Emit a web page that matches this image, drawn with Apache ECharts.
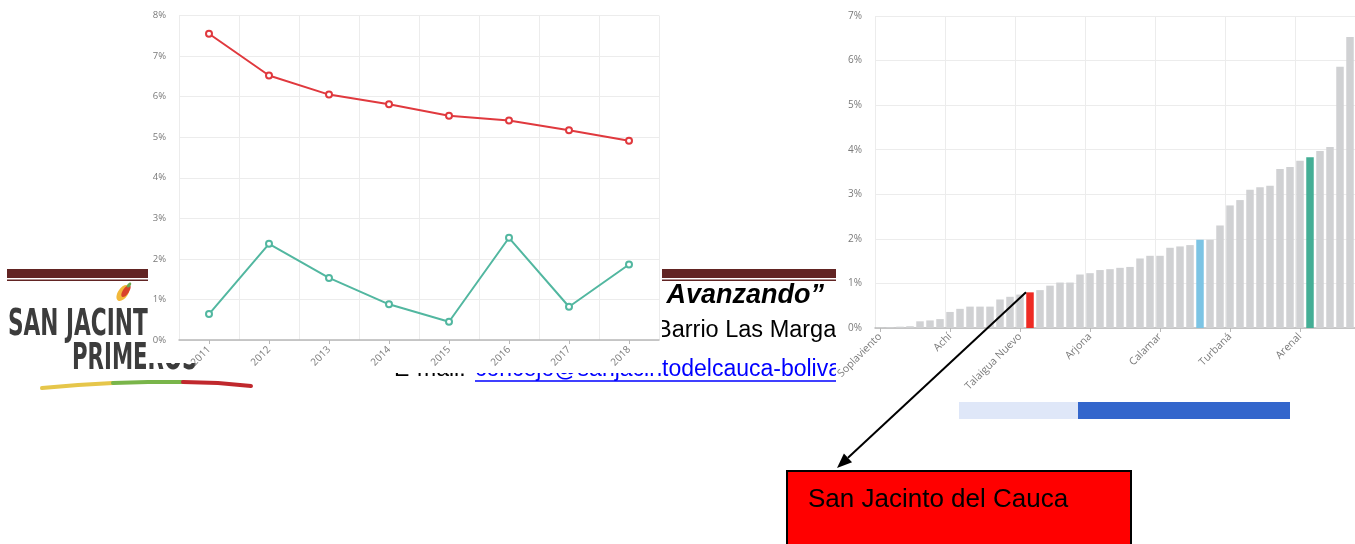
<!DOCTYPE html>
<html>
<head>
<meta charset="utf-8">
<script src="https://cdn.jsdelivr.net/npm/echarts@6/dist/echarts.min.js"></script>
<style>
html,body{margin:0;padding:0;background:#fff;overflow:hidden;}
#main{width:1355px;height:544px;}
</style>
</head>
<body>
<div id="main"></div>
<script>
// ---------- Data ----------
const years = ['2011','2012','2013','2014','2015','2016','2017','2018'];
const serieRoja = [7.55, 6.52, 6.05, 5.81, 5.53, 5.41, 5.17, 4.91];
const serieVerde = [0.64, 2.37, 1.53, 0.88, 0.45, 2.52, 0.82, 1.86];
const ticksIzq = [0, 1, 2, 3, 4, 5, 6, 7, 8];

const municipios = [
  'Soplaviento','M02','M03','M04','M05','M06','M07',
  'Achí','M09','M10','M11','M12','M13','M14',
  'Talaigua Nuevo','San Jacinto del Cauca','M17','M18','M19','M20','M21',
  'Arjona','M23','M24','M25','M26','M27','M28',
  'Calamar','M30','M31','M32','M33','M34','M35',
  'Turbaná','M37','M38','M39','M40','M41','M42',
  'Arenal','M44','M45','M46','M47','M48'
];
const valores = [
  0.01, 0.02, 0.03, 0.04, 0.15, 0.17, 0.20,
  0.36, 0.43, 0.48, 0.48, 0.48, 0.64, 0.70,
  0.75, 0.80, 0.85, 0.95, 1.02, 1.02, 1.20,
  1.23, 1.30, 1.32, 1.35, 1.37, 1.56, 1.62,
  1.62, 1.80, 1.83, 1.86, 1.98, 1.98, 2.30,
  2.75, 2.87, 3.10, 3.16, 3.19, 3.57, 3.61,
  3.75, 3.83, 3.97, 4.06, 5.86, 6.53
];
const ticksDer = [0, 1, 2, 3, 4, 5, 6, 7];
const destacadoRojo = 'San Jacinto del Cauca';
const destacadoAzul = 32;
const destacadoVerde = 43;
const etiquetaCaja = 'San Jacinto del Cauca';

// ---------- Styles ----------
const GREY = '#d0d1d3', RED = '#ee2b24', BLUE = '#7cc4e4', GREEN = '#44ae95';
const barData = valores.map((v, i) => {
  let c = GREY;
  if (municipios[i] === destacadoRojo) c = RED;
  else if (i === destacadoAzul) c = BLUE;
  else if (i === destacadoVerde) c = GREEN;
  return { value: v, itemStyle: { color: c } };
});

const chart = echarts.init(document.getElementById('main'), null, { renderer: 'canvas' });

const FONT = '"Liberation Sans", Arial, sans-serif';
const docZ = -10, coverZ = -5;

const graphics = [
  // header rule (document)
  { type: 'rect', z: docZ, shape: { x: 7, y: 269, width: 830, height: 9 }, style: { fill: '#622423' } },
  { type: 'rect', z: docZ, shape: { x: 7, y: 279.5, width: 830, height: 1.6 }, style: { fill: '#622423' } },
  // logo mango
  { type: 'ellipse', z: docZ, x: 123, y: 293, rotation: -0.6, shape: { cx: 0, cy: 0, rx: 5, ry: 9 }, style: { fill: '#f2b83a' } },
  { type: 'ellipse', z: docZ, x: 126, y: 291, rotation: -0.6, shape: { cx: 0, cy: 0, rx: 3, ry: 7 }, style: { fill: '#d9412b' } },
  { type: 'ellipse', z: docZ, x: 129, y: 285, rotation: 0.9, shape: { cx: 0, cy: 0, rx: 3, ry: 1.6 }, style: { fill: '#6aa84f' } },
  // logo text
  { type: 'text', z: docZ, x: 8, y: 325, scaleX: 0.57, style: { text: 'SAN JACINTO', x: 0, y: 0, fill: '#3c3c3c', textVerticalAlign: 'middle',
      font: 'bold 38px "DejaVu Sans", sans-serif', shadowColor: 'rgba(0,0,0,0.25)', shadowBlur: 2 } },
  { type: 'text', z: docZ, x: 72, y: 359, scaleX: 0.56, style: { text: 'PRIMEROS', x: 0, y: 0, fill: '#3c3c3c', textVerticalAlign: 'middle',
      font: 'bold 38px "DejaVu Sans", sans-serif', shadowColor: 'rgba(0,0,0,0.25)', shadowBlur: 2 } },
  // logo swoosh
  { type: 'polyline', z: docZ, shape: { points: [[42, 388], [78, 385], [113, 383]] }, style: { stroke: '#e6c64a', lineWidth: 4, lineCap: 'round', fill: null } },
  { type: 'polyline', z: docZ, shape: { points: [[113, 383], [148, 382], [183, 382]] }, style: { stroke: '#79b54a', lineWidth: 4, lineCap: 'round', fill: null } },
  { type: 'polyline', z: docZ, shape: { points: [[183, 382], [218, 383], [251, 386]] }, style: { stroke: '#c0282d', lineWidth: 4, lineCap: 'round', fill: null } },
  // document text lines
  { type: 'text', z: docZ, style: { text: 'Avanzando”', x: 824, y: 296, textAlign: 'right', textVerticalAlign: 'middle',
      font: 'italic bold 27px ' + FONT, fill: '#000' } },
  { type: 'text', z: docZ, style: { text: 'Barrio Las Margaritas', x: 656, y: 331, textVerticalAlign: 'middle',
      font: '23.5px ' + FONT, fill: '#000' } },
  { type: 'text', z: docZ, style: { text: 'E-mail:', x: 394, y: 370, textVerticalAlign: 'middle',
      font: '23px ' + FONT, fill: '#000' } },
  { type: 'text', z: docZ, style: { text: 'concejo@sanjacintodelcauca-bolivar.gov.co', x: 475, y: 370, textVerticalAlign: 'middle',
      font: '23px ' + FONT, fill: '#0000ff' } },
  { type: 'line', z: docZ, shape: { x1: 475, y1: 381, x2: 1000, y2: 381 }, style: { stroke: '#0000ff', lineWidth: 1.5 } },
  // white backgrounds of the pasted charts
  { type: 'polygon', z: coverZ, shape: { points: [[148, 0], [662, 0], [662, 373], [380, 373], [380, 363], [148, 363]] }, style: { fill: '#fff' } },
  { type: 'rect', z: coverZ, shape: { x: 836, y: 0, width: 519, height: 430 }, style: { fill: '#fff' } },
  // range slider look under right chart
  { type: 'rect', z: 5, shape: { x: 959, y: 402, width: 119, height: 17 }, style: { fill: '#dfe7f8' } },
  { type: 'rect', z: 5, shape: { x: 1078, y: 402, width: 212, height: 17 }, style: { fill: '#3366cc' } },
  // callout box
  { type: 'rect', z: 50, shape: { x: 787, y: 471, width: 344, height: 90 }, style: { fill: '#ff0000', stroke: '#000', lineWidth: 2 } },
  { type: 'text', z: 51, style: { text: etiquetaCaja, x: 808, y: 500, textVerticalAlign: 'middle', font: '26px ' + FONT, fill: '#000' } }
];

const axisLabelStyle = { color: '#7a7a7a', fontFamily: '"Open Sans", sans-serif' };

const option = {
  animation: false,
  backgroundColor: '#fff',
  grid: [
    { left: 179, top: 15.5, width: 480, height: 324.5 },
    { left: 875, top: 16, width: 480, height: 312 }
  ],
  xAxis: [
    {
      gridIndex: 0, type: 'category', data: years, boundaryGap: true,
      axisLine: { lineStyle: { color: '#b8b8b8', width: 1.5 } },
      axisTick: { show: true, alignWithLabel: true, length: 4, lineStyle: { color: '#b8b8b8' } },
      axisLabel: Object.assign({ rotate: 45, fontSize: 10, margin: 8 }, axisLabelStyle),
      splitLine: { show: true, lineStyle: { color: '#ececec' } }
    },
    {
      gridIndex: 1, type: 'category', data: municipios, boundaryGap: true,
      axisLine: { lineStyle: { color: '#b8b8b8', width: 1.5 } },
      axisTick: { show: true, alignWithLabel: true, interval: 6, length: 4, lineStyle: { color: '#b8b8b8' } },
      axisLabel: Object.assign({ rotate: 45, fontSize: 10.5, margin: 7, interval: 6 }, axisLabelStyle),
      splitLine: { show: true, interval: 6, lineStyle: { color: '#ececec' } }
    }
  ],
  yAxis: [
    {
      gridIndex: 0, type: 'value', min: ticksIzq[0], max: ticksIzq[ticksIzq.length - 1], interval: 1,
      axisLine: { show: false }, axisTick: { show: false },
      axisLabel: Object.assign({ formatter: '{value}%', fontSize: 9.5, margin: 13 }, axisLabelStyle),
      splitLine: { lineStyle: { color: '#ececec' } }
    },
    {
      gridIndex: 1, type: 'value', min: ticksDer[0], max: ticksDer[ticksDer.length - 1], interval: 1,
      axisLine: { show: false }, axisTick: { show: false },
      axisLabel: Object.assign({ formatter: '{value}%', fontSize: 10, margin: 13 }, axisLabelStyle),
      splitLine: { lineStyle: { color: '#ececec' } }
    }
  ],
  series: [
    {
      type: 'line', xAxisIndex: 0, yAxisIndex: 0, data: serieRoja,
      symbol: 'emptyCircle', symbolSize: 6,
      lineStyle: { color: '#e0393e', width: 2 },
      itemStyle: { color: '#e0393e', borderWidth: 2 }
    },
    {
      type: 'line', xAxisIndex: 0, yAxisIndex: 0, data: serieVerde,
      symbol: 'emptyCircle', symbolSize: 6,
      lineStyle: { color: '#52b7a0', width: 2 },
      itemStyle: { color: '#52b7a0', borderWidth: 2 }
    },
    {
      type: 'bar', xAxisIndex: 1, yAxisIndex: 1, data: barData,
      barCategoryGap: '25%'
    }
  ],
  graphic: graphics
};

chart.setOption(option);

// Arrow from the top of the highlighted bar to the callout box
const idxRojo = municipios.indexOf(destacadoRojo);
const barTop = chart.convertToPixel({ gridIndex: 1 }, [idxRojo, valores[idxRojo]]);
const arrowStart = [barTop[0] - 4, barTop[1]];
const arrowTip = [837, 468];
const ang = Math.atan2(arrowTip[1] - arrowStart[1], arrowTip[0] - arrowStart[0]);
const hl = 15, hw = 6;
const bx = arrowTip[0] - hl * Math.cos(ang), by = arrowTip[1] - hl * Math.sin(ang);
const head = [
  arrowTip,
  [bx + hw * Math.sin(ang), by - hw * Math.cos(ang)],
  [bx - hw * Math.sin(ang), by + hw * Math.cos(ang)]
];
chart.setOption({
  graphic: graphics.concat([
    { type: 'line', z: 60, shape: { x1: arrowStart[0], y1: arrowStart[1], x2: bx, y2: by }, style: { stroke: '#000', lineWidth: 2 } },
    { type: 'polygon', z: 60, shape: { points: head }, style: { fill: '#000' } }
  ])
}, { replaceMerge: ['graphic'] });
</script>
</body>
</html>
